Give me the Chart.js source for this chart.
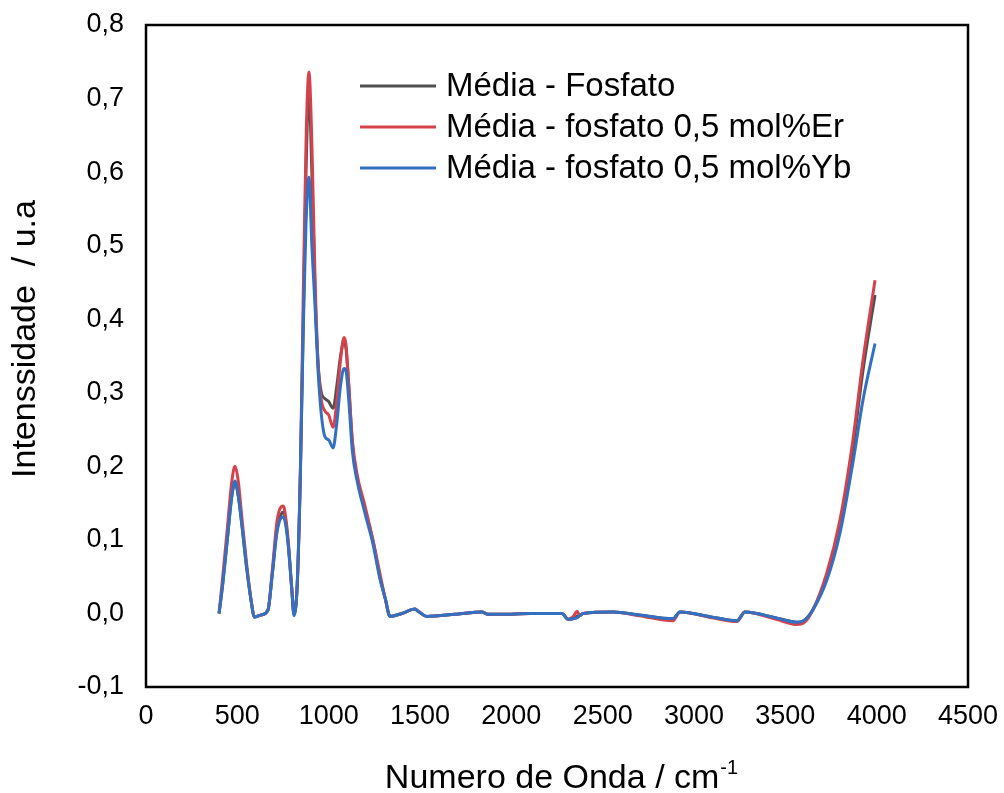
<!DOCTYPE html>
<html><head><meta charset="utf-8">
<script src="https://cdn.jsdelivr.net/npm/chart.js@4.4.1/dist/chart.umd.min.js"></script>
<style>html,body{margin:0;padding:0;background:#fff;}#wrap{width:1004px;height:793px;}</style>
</head><body><div id="wrap"><canvas id="c" width="1004" height="793"></canvas></div>
<script>
const wavenumbers = [400,420,445,470,487,505,525,552,580,592,630,668,690,717,740,752,765,780,799,810,828,845,860,876,892,908,925,942,960,980,1000,1024,1045,1065,1084,1095,1110,1130,1155,1200,1242,1280,1310,1336,1400,1473,1490,1538,1600,1700,1839,1872,2000,2100,2277,2311,2340,2359,2375,2393,2557,2700,2885,2923,3100,3235,3279,3450,3564,3600,3651,3727,3799,3870,3925,3991];
const fosfato   = [0,0.04,0.10,0.16,0.178,0.16,0.12,0.06,0.01,-0.005,-0.002,0.005,0.05,0.115,0.135,0.138,0.125,0.09,0.03,0,0.04,0.19,0.38,0.60,0.71,0.60,0.44,0.34,0.30,0.292,0.288,0.279,0.31,0.35,0.37,0.36,0.31,0.23,0.185,0.14,0.10,0.05,0.02,-0.004,0,0.006,0.003,-0.004,-0.003,-0.001,0.002,-0.001,-0.001,0,0,-0.008,-0.007,-0.004,-0.003,0,0.002,-0.002,-0.007,0.002,-0.005,-0.01,0.002,-0.006,-0.012,-0.01,0.005,0.05,0.12,0.225,0.33,0.433];
const fosfatoEr = [0,0.05,0.115,0.18,0.200,0.18,0.13,0.065,0.01,-0.005,-0.002,0.005,0.055,0.125,0.145,0.146,0.13,0.095,0.03,0,0.04,0.19,0.42,0.64,0.736,0.64,0.46,0.34,0.29,0.275,0.27,0.253,0.29,0.345,0.375,0.365,0.31,0.235,0.19,0.145,0.10,0.055,0.02,-0.004,0,0.006,0.003,-0.004,-0.003,-0.001,0.002,-0.001,-0.001,0,0,-0.008,-0.004,0.003,-0.003,0,0.002,-0.003,-0.01,0.002,-0.006,-0.011,0.002,-0.008,-0.015,-0.013,0.005,0.055,0.127,0.236,0.344,0.453];
const fosfatoYb = [0,0.04,0.10,0.16,0.180,0.16,0.12,0.06,0.01,-0.005,-0.002,0.005,0.05,0.11,0.13,0.131,0.12,0.09,0.03,-0.003,0.04,0.19,0.38,0.53,0.593,0.50,0.42,0.33,0.27,0.24,0.236,0.225,0.26,0.31,0.333,0.33,0.29,0.22,0.181,0.135,0.095,0.048,0.02,-0.004,0,0.006,0.003,-0.004,-0.003,-0.001,0.002,-0.001,-0.001,0,0,-0.008,-0.007,-0.006,-0.003,0,0.002,-0.002,-0.007,0.002,-0.005,-0.01,0.002,-0.006,-0.012,-0.01,0.005,0.045,0.109,0.205,0.29,0.367];
const seriesLabels = ['Média - Fosfato','Média - fosfato 0,5 mol%Er','Média - fosfato 0,5 mol%Yb'];
const seriesColors = ['#505050','#D5424C','#3370C2'];
const xTicks = [0,500,1000,1500,2000,2500,3000,3500,4000,4500];
const yTicks = [-0.1,0,0.1,0.2,0.3,0.4,0.5,0.6,0.7,0.8];
const xTitle = 'Numero de Onda / cm';
const xTitleSup = '-1';
const yTitle = 'Intenssidade  / u.a';

const FONT = "'Liberation Sans', Arial, sans-serif";
const seriesValues = [fosfato, fosfatoEr, fosfatoYb];

const decor = {
  id: 'decor',
  afterDraw(chart) {
    const ctx = chart.ctx, a = chart.chartArea;
    ctx.save();
    ctx.strokeStyle = '#000';
    ctx.lineWidth = 2.5;
    ctx.strokeRect(a.left, a.top, a.right - a.left, a.bottom - a.top);
    // legend
    ctx.font = '33px ' + FONT;
    ctx.textBaseline = 'alphabetic';
    ctx.textAlign = 'left';
    seriesLabels.forEach((lab, i) => {
      const ly = 86 + 41 * i;
      ctx.strokeStyle = seriesColors[i];
      ctx.lineWidth = 3;
      ctx.beginPath(); ctx.moveTo(360, ly); ctx.lineTo(436, ly); ctx.stroke();
      ctx.fillStyle = '#000';
      ctx.fillText(lab, 446, ly + 10);
    });
    // x title
    ctx.font = '34px ' + FONT;
    const w1 = ctx.measureText(xTitle).width;
    ctx.font = '20px ' + FONT;
    const w2 = ctx.measureText(xTitleSup).width;
    const x0 = 561 - (w1 + w2) / 2;
    ctx.fillStyle = '#000';
    ctx.font = '34px ' + FONT;
    ctx.fillText(xTitle, x0, 788);
    ctx.font = '20px ' + FONT;
    ctx.fillText(xTitleSup, x0 + w1 + 1, 774);
    // y title
    ctx.translate(35, 339);
    ctx.rotate(-Math.PI / 2);
    ctx.font = '34px ' + FONT;
    ctx.textAlign = 'center';
    ctx.fillText(yTitle, 0, 0);
    ctx.restore();
  }
};

new Chart(document.getElementById('c'), {
  type: 'line',
  data: {
    datasets: seriesLabels.map((lab, i) => ({
      label: lab,
      data: wavenumbers.map((x, j) => ({x: x, y: seriesValues[i][j]})),
      borderColor: seriesColors[i],
      borderWidth: 3,
      pointRadius: 0,
      fill: false,
      order: 2 - i,
      cubicInterpolationMode: 'monotone'
    }))
  },
  options: {
    responsive: false,
    animation: false,
    layout: {padding: {top: 25, right: 36, left: 0, bottom: 0}},
    plugins: {legend: {display: false}, tooltip: {enabled: false}},
    scales: {
      x: {
        type: 'linear', min: 0, max: 4500,
        grid: {display: false, drawTicks: false},
        border: {display: false},
        afterBuildTicks: s => { s.ticks = xTicks.map(v => ({value: v})); },
        afterFit: s => { s.height = 106; s.paddingLeft = 0; s.paddingRight = 0; },
        ticks: {color: '#000', font: {family: FONT, size: 27}, padding: 13, maxRotation: 0, autoSkip: false,
                callback: v => String(v)}
      },
      y: {
        type: 'linear', min: -0.1, max: 0.8,
        grid: {display: false, drawTicks: false},
        border: {display: false},
        afterBuildTicks: s => { s.ticks = yTicks.map(v => ({value: v})); },
        afterFit: s => { s.width = 146; s.paddingTop = 0; s.paddingBottom = 0; },
        ticks: {color: '#000', font: {family: FONT, size: 27}, padding: 22, autoSkip: false,
                callback: v => v.toFixed(1).replace('.', ',')}
      }
    }
  },
  plugins: [decor]
});
</script></body></html>
